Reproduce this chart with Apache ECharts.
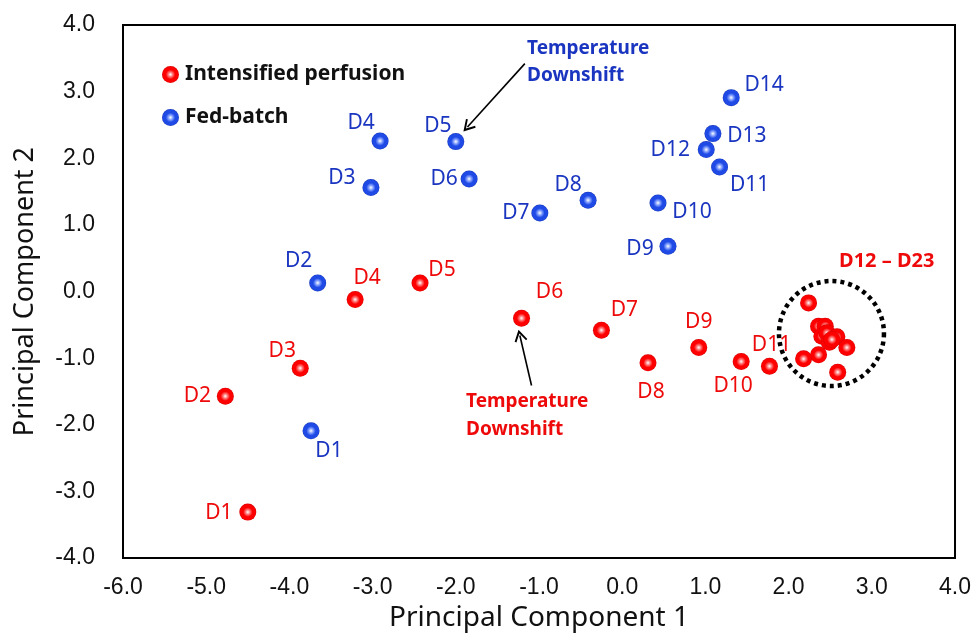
<!DOCTYPE html>
<html>
<head>
<meta charset="utf-8">
<script src="https://cdn.jsdelivr.net/npm/echarts@6/dist/echarts.min.js"></script>
<style>
  html, body { margin: 0; padding: 0; background: #fff; }
  #chart { width: 974px; height: 637px; }
</style>
</head>
<body>
<div id="chart"></div>
<script>
// PCA scores: [PC1, PC2]
const perfusionNames = ['D1', 'D2', 'D3', 'D4', 'D5', 'D6', 'D7', 'D8', 'D9', 'D10', 'D11'];
const perfusionScores = [
  [-4.50, -3.31], [-4.77, -1.57], [-3.87, -1.15], [-3.21, -0.12], [-2.43, 0.13],
  [-1.21, -0.40], [-0.25, -0.58], [0.31, -1.07], [0.92, -0.84], [1.43, -1.05], [1.77, -1.12]
];
// late perfusion days D12 – D23, grouped together
const perfusionClusterScores = [
  [2.24, -0.17], [2.36, -0.52], [2.44, -0.52], [2.40, -0.67], [2.46, -0.62], [2.58, -0.68],
  [2.49, -0.76], [2.52, -0.72], [2.70, -0.84], [2.36, -0.95], [2.18, -1.01], [2.59, -1.21]
];
const fedBatchNames = ['D1', 'D2', 'D3', 'D4', 'D5', 'D6', 'D7', 'D8', 'D9', 'D10', 'D11', 'D12', 'D13', 'D14'];
const fedBatchScores = [
  [-3.74, -2.09], [-3.66, 0.13], [-3.02, 1.56], [-2.91, 2.26], [-2.00, 2.25], [-1.84, 1.69],
  [-0.99, 1.18], [-0.41, 1.37], [0.55, 0.68], [0.43, 1.33], [1.17, 1.87], [1.01, 2.13],
  [1.09, 2.37], [1.31, 2.91]
];
const clusterCenter = [2.515, -0.63];
const xTicks = { min: -6, max: 4, step: 1 };
const yTicks = { min: -4, max: 4, step: 1 };

// label offsets (px) from each marker centre
const perfusionLabelOffsets = [
  [-29, 1], [-28, 0], [-18, -17], [12, -22], [22, -13], [28, -26],
  [23, -20], [3, 29], [0, -26], [-8, 24], [2, -21]
];
const fedBatchLabelOffsets = [
  [18, 20], [-19, -22], [-29, -10], [-19, -18], [-18, -16], [-25, 0],
  [-24, 0], [-20, -15], [-28, 3], [34, 9], [30, 18], [-36, 0], [34, 2], [33, -13]
];

const RED = '#ee0a0a';
const BLUE = '#1a35c0';
const textFont = '"Noto Sans", "Open Sans", sans-serif';
const tickFont = '"Liberation Sans", Arial, sans-serif';

function sphere(mid, edge, rim) {
  return new echarts.graphic.RadialGradient(0.5, 0.5, 0.5, [
    { offset: 0, color: '#ffffff' },
    { offset: 0.25, color: mid },
    { offset: 0.55, color: edge },
    { offset: 0.88, color: edge },
    { offset: 1, color: rim }
  ]);
}
const redSphere = sphere('#ff8080', '#ff0000', '#d40000');
const blueSphere = sphere('#8aa6ff', '#1f4ae6', '#1535b8');

function labelled(names, scores, offsets, color) {
  return scores.map((p, i) => ({
    value: p,
    name: names[i],
    label: {
      show: true, position: 'inside', offset: offsets[i], formatter: names[i],
      color: color, fontSize: 21, fontFamily: textFont
    }
  }));
}

const chart = echarts.init(document.getElementById('chart'), null, { renderer: 'canvas' });

const openArrow = 'path://M5,0 L10,8.5 L8.8,9.3 L5,3 L1.2,9.3 L0,8.5 Z';

chart.setOption({
  animation: false,
  backgroundColor: '#fff',
  grid: {
    left: 123, top: 25, right: 15, bottom: 77,
    show: true, borderColor: '#000', borderWidth: 2
  },
  legend: {
    data: ['Intensified perfusion', 'Fed-batch'],
    orient: 'vertical',
    left: 157, top: 59,
    itemWidth: 17, itemHeight: 17, itemGap: 22,
    icon: 'circle',
    textStyle: { fontSize: 21, lineHeight: 19, fontWeight: 'bold', fontFamily: textFont, color: '#111', padding: [0, 0, 0, 1] }
  },
  xAxis: {
    type: 'value', min: xTicks.min, max: xTicks.max, interval: xTicks.step,
    name: 'Principal Component 1', nameLocation: 'middle', nameGap: 39,
    nameTextStyle: { fontSize: 28, fontFamily: textFont, color: '#111' },
    axisLine: { show: true, onZero: false, lineStyle: { color: '#000', width: 2 } },
    axisTick: { show: false },
    splitLine: { show: false },
    axisLabel: {
      margin: 18, fontSize: 23, fontFamily: tickFont, color: '#111',
      formatter: v => v.toFixed(1)
    }
  },
  yAxis: {
    type: 'value', min: yTicks.min, max: yTicks.max, interval: yTicks.step,
    name: 'Principal Component 2', nameLocation: 'middle', nameGap: 84,
    nameTextStyle: { fontSize: 27, fontFamily: textFont, color: '#111' },
    axisLine: { show: true, onZero: false, lineStyle: { color: '#000', width: 2 } },
    axisTick: { show: false },
    splitLine: { show: false },
    axisLabel: {
      margin: 28, fontSize: 23, fontFamily: tickFont, color: '#111',
      formatter: v => v.toFixed(1)
    }
  },
  series: [
    {
      name: 'group-outline',
      type: 'scatter',
      silent: true,
      z: 1,
      symbol: 'circle',
      symbolSize: 105,
      itemStyle: { color: 'rgba(0,0,0,0)', opacity: 1, borderColor: '#000', borderWidth: 4.5, borderType: [4, 4] },
      data: [clusterCenter],
      markLine: {
        silent: true,
        symbol: ['none', openArrow],
        symbolSize: [13, 12],
        label: { show: false },
        lineStyle: { color: '#000', width: 1.6, type: 'solid' },
        data: [
          [{ coord: [-1.17, 3.42] }, { coord: [-1.86, 2.47] }],
          [{ coord: [-1.09, -1.41] }, { coord: [-1.23, -0.66] }]
        ]
      }
    },
    {
      name: 'Intensified perfusion',
      type: 'scatter',
      symbolSize: 17,
      z: 3,
      itemStyle: { color: redSphere, opacity: 1 },
      data: labelled(perfusionNames, perfusionScores, perfusionLabelOffsets, RED)
        .concat(perfusionClusterScores.map(p => ({ value: p, label: { show: false } })))
    },
    {
      name: 'Fed-batch',
      type: 'scatter',
      symbolSize: 17,
      z: 3,
      itemStyle: { color: blueSphere, opacity: 1 },
      data: labelled(fedBatchNames, fedBatchScores, fedBatchLabelOffsets, BLUE)
    }
  ],
  graphic: [
    {
      type: 'text', left: 527, top: 35,
      style: { text: 'Temperature\nDownshift', fill: BLUE, font: 'bold 19px ' + textFont, lineHeight: 27 }
    },
    {
      type: 'text', left: 466, top: 388,
      style: { text: 'Temperature\nDownshift', fill: RED, font: 'bold 19px ' + textFont, lineHeight: 28, align: 'center' }
    },
    {
      type: 'text', left: 839, top: 251,
      style: { text: 'D12 – D23', fill: RED, font: 'bold 20px ' + textFont }
    }
  ]
});
</script>
</body>
</html>
